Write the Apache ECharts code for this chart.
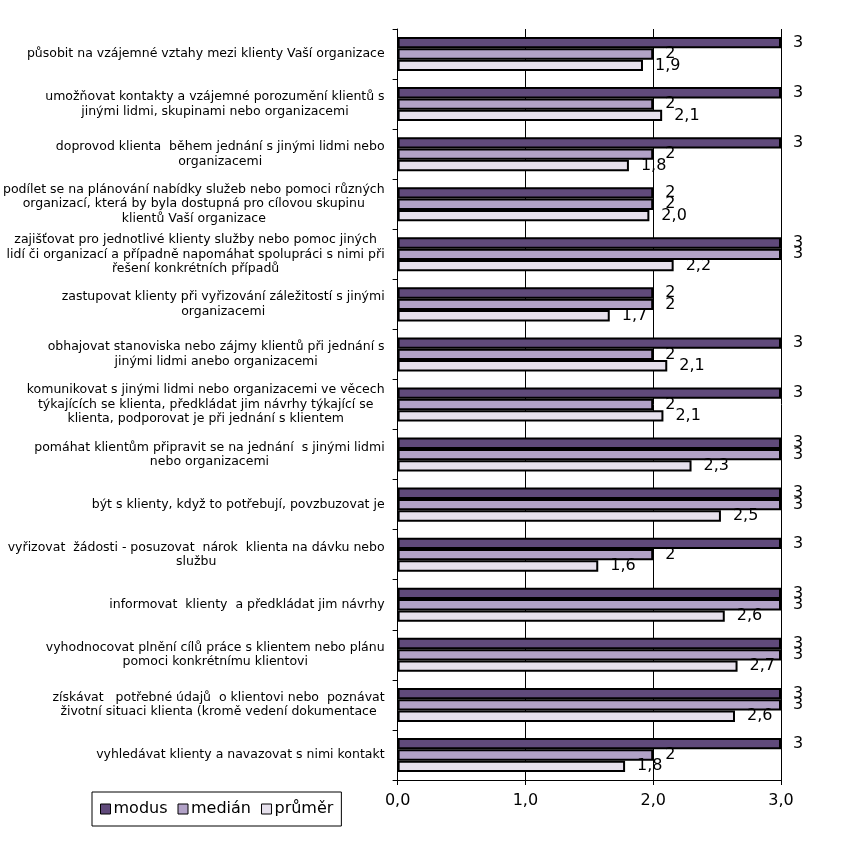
<!DOCTYPE html>
<html>
<head>
<meta charset="utf-8">
<script src="https://cdn.jsdelivr.net/npm/echarts@6/dist/echarts.min.js"></script>
<style>html,body{margin:0;padding:0;background:#fff;}#c{width:864px;height:841px;}</style>
</head>
<body>
<div id="c"></div>
<script>
var categories = [
  "působit na vzájemné vztahy mezi klienty Vaší organizace",
  "umožňovat kontakty a vzájemné porozumění klientů s\njinými lidmi, skupinami nebo organizacemi",
  "doprovod klienta  během jednání s jinými lidmi nebo\norganizacemi",
  "podílet se na plánování nabídky služeb nebo pomoci různých\norganizací, která by byla dostupná pro cílovou skupinu\nklientů Vaší organizace",
  "zajišťovat pro jednotlivé klienty služby nebo pomoc jiných\nlidí či organizací a případně napomáhat spolupráci s nimi při\nřešení konkrétních případů",
  "zastupovat klienty při vyřizování záležitostí s jinými\norganizacemi",
  "obhajovat stanoviska nebo zájmy klientů při jednání s\njinými lidmi anebo organizacemi",
  "komunikovat s jinými lidmi nebo organizacemi ve věcech\ntýkajících se klienta, předkládat jim návrhy týkající se\nklienta, podporovat je při jednání s klientem",
  "pomáhat klientům připravit se na jednání  s jinými lidmi\nnebo organizacemi",
  "být s klienty, když to potřebují, povzbuzovat je",
  "vyřizovat  žádosti - posuzovat  nárok  klienta na dávku nebo\nslužbu",
  "informovat  klienty  a předkládat jim návrhy",
  "vyhodnocovat plnění cílů práce s klientem nebo plánu\npomoci konkrétnímu klientovi",
  "získávat   potřebné údajů  o klientovi nebo  poznávat\nživotní situaci klienta (kromě vedení dokumentace",
  "vyhledávat klienty a navazovat s nimi kontakt"
];
var seriesNames = ["modus", "medián", "průměr"];
var modus  = [3, 3, 3, 2, 3, 2, 3, 3, 3, 3, 3, 3, 3, 3, 3];
var median = [2, 2, 2, 2, 3, 2, 2, 2, 3, 3, 2, 3, 3, 3, 2];
var prumer = [1.92, 2.07, 1.81, 1.97, 2.16, 1.66, 2.11, 2.08, 2.30, 2.53, 1.57, 2.56, 2.66, 2.64, 1.78];
var xTicks = [0, 1, 2, 3];

var FONT = "DejaVu Sans";
var colors = ["#604A7B", "#B2A2C7", "#E6E0EC"];

function fmt1(v) { return (Math.round(v * 10) / 10).toFixed(1).replace('.', ','); }

var chart = echarts.init(document.getElementById('c'), null, {renderer: 'canvas'});

function mkSeries(name, data, color, formatter) {
  return {
    name: name,
    type: 'bar',
    data: data,
    barGap: '0%',
    barCategoryGap: '32%',
    itemStyle: {color: color, borderColor: '#000', borderWidth: 2},
    label: {
      show: true,
      position: 'right',
      distance: 12,
      fontFamily: FONT,
      fontSize: 16,
      color: '#000',
      formatter: function (p) { return formatter(p.value); }
    },
    emphasis: {disabled: true},
    animation: false
  };
}

var option = {
  animation: false,
  grid: {left: 397, right: 83, top: 29, bottom: 61, containLabel: false},
  xAxis: {
    type: 'value',
    min: xTicks[0],
    max: xTicks[xTicks.length - 1],
    interval: 1,
    axisLine: {show: true, lineStyle: {color: '#000', width: 1}},
    axisTick: {show: true, length: 5, lineStyle: {color: '#000'}},
    axisLabel: {
      margin: 13,
      fontFamily: FONT,
      fontSize: 16,
      color: '#000',
      formatter: function (v) { return fmt1(v); }
    },
    splitLine: {show: true, lineStyle: {color: '#000', width: 1}}
  },
  yAxis: {
    type: 'category',
    inverse: true,
    data: categories,
    axisLine: {show: true, lineStyle: {color: '#000', width: 1}},
    axisTick: {show: true, length: 5, lineStyle: {color: '#000'}},
    axisLabel: {
      margin: 13,
      interval: 0,
      fontFamily: FONT,
      fontSize: 12.5,
      lineHeight: 14.5,
      color: '#000',
      formatter: function (v) {
        return v.split('\n').map(function (l) { return '{c|' + l + '}'; }).join('\n');
      },
      rich: {
        c: {align: 'center', fontFamily: FONT, fontSize: 12.5, lineHeight: 14.5, color: '#000'}
      }
    },
    splitLine: {show: false}
  },
  legend: {
    left: 92,
    top: 792,
    orient: 'horizontal',
    padding: [9, 8],
    borderColor: '#000',
    borderWidth: 1,
    itemWidth: 10,
    itemHeight: 10,
    itemGap: 10,
    icon: 'rect',
    itemStyle: {borderColor: '#000', borderWidth: 1},
    textStyle: {fontFamily: FONT, fontSize: 16, color: '#000', padding: [0, 0, 0, -2]},
    data: seriesNames
  },
  series: [
    mkSeries(seriesNames[0], modus, colors[0], function (v) { return String(v); }),
    mkSeries(seriesNames[1], median, colors[1], function (v) { return String(v); }),
    mkSeries(seriesNames[2], prumer, colors[2], fmt1)
  ]
};
chart.setOption(option);
</script>
</body>
</html>
